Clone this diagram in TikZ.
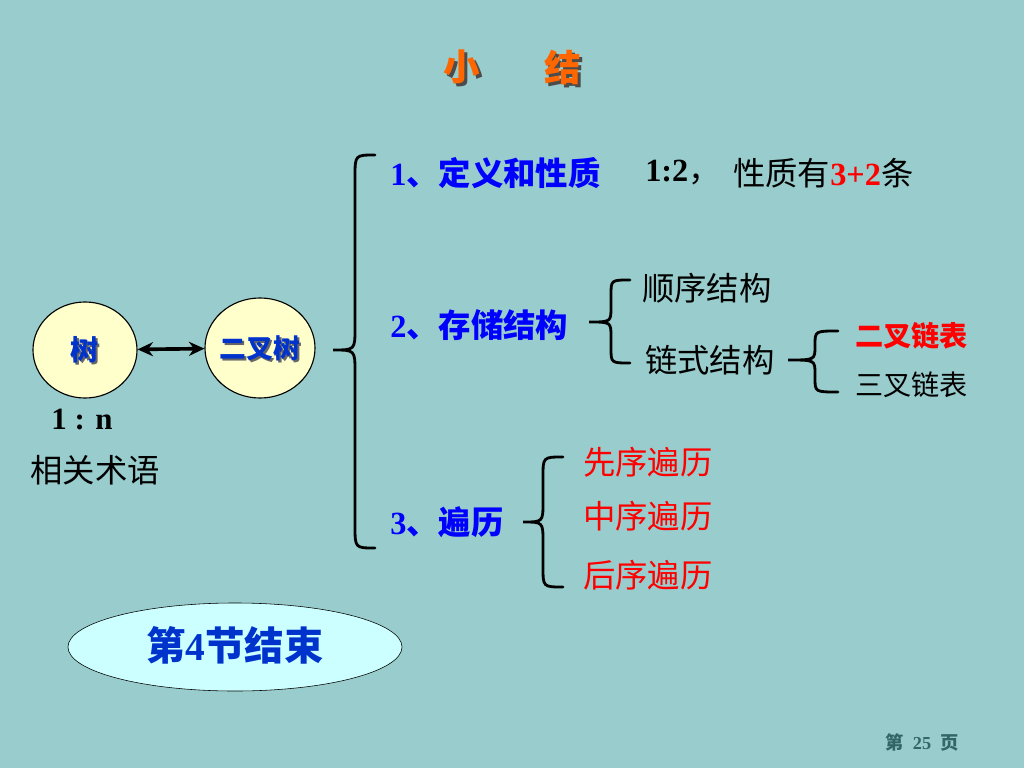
\documentclass[tikz,border=0pt]{standalone}
\usepackage{fontspec}
\setmainfont{Liberation Serif}
\newfontfamily\cjk{Noto Sans CJK SC}
\usetikzlibrary{shapes.geometric,arrows.meta}
\definecolor{slidebg}{RGB}{153,204,204}
\definecolor{titleorange}{RGB}{255,102,0}
\definecolor{nodeyellow}{RGB}{255,255,204}
\definecolor{endcyan}{RGB}{204,255,255}
\definecolor{pagegray}{RGB}{51,102,102}
\definecolor{textblue}{RGB}{0,0,255}
\definecolor{nodeblue}{RGB}{0,51,204}
\tikzset{
% ellipse nodes, text styles and brace lines
tree node/.style={ellipse,draw,thick,fill=nodeyellow,inner sep=0},
big text/.style={font=\fontsize{23}{28}\selectfont,inner sep=0,anchor=west},
small text/.style={font=\fontsize{20}{24}\selectfont,inner sep=0,anchor=west},
brace line/.style={line width=2pt,line cap=round}
}
% left curly brace: end x, body x, tip x, top y, middle y, bottom y, radius
\newcommand{\bracepath}[7]{%
\draw[brace line] (#1,#4) .. controls (#2,#4) .. (#2,#4+#7) -- (#2,#5-#7)
  .. controls (#2,#5) .. (#3,#5) .. controls (#2,#5) .. (#2,#5+#7)
  -- (#2,#6-#7) .. controls (#2,#6) .. (#1,#6);}

\begin{document}
\begin{tikzpicture}[x=0.025cm,y=-0.025cm]
\fill[slidebg] (0,0) rectangle (1024,768);
\useasboundingbox (0,0) rectangle (1024,768);

% title
\node[font=\fontsize{26}{30}\selectfont\cjk\bfseries,text=black!70] at (465,70) {小};
\node[font=\fontsize{26}{30}\selectfont\cjk\bfseries,text=black!70] at (566,70) {结};
\node[font=\fontsize{26}{30}\selectfont\cjk\bfseries,text=titleorange] (small) at (462,67) {小};
\node[font=\fontsize{26}{30}\selectfont\cjk\bfseries,text=titleorange] (sum) at (563,67) {结};

% tree and binary tree
\node[tree node,minimum width=2.6cm,minimum height=2.4cm] (tree) at (85,350) {};
\node[tree node,minimum width=2.75cm,minimum height=2.5cm] (bintree) at (260,348) {};
\node[font=\fontsize{20}{24}\selectfont\cjk\bfseries,text=black!60] at (87,352) {树};
\node[font=\fontsize{20}{24}\selectfont\cjk\bfseries,text=nodeblue] at (85,350) {树};
\node[font=\fontsize{19}{23}\selectfont\cjk\bfseries,text=black!60] at (262,350) {二叉树};
\node[font=\fontsize{19}{23}\selectfont\cjk\bfseries,text=nodeblue] at (260,348) {二叉树};
\draw[{Stealth[length=11pt,width=10pt]}-{Stealth[length=11pt,width=10pt]},line width=2.6pt] (tree) -- (bintree);
\node[font=\fontsize{22}{26}\selectfont\bfseries] (ratio1) at (82,420) {1 : n};
\node[font=\fontsize{23}{28}\selectfont\cjk] (terms) at (95,470) {相关术语};

% summary braces
\bracepath{375}{355}{333}{155}{350}{548}{22}
\bracepath{630}{611}{589}{280}{322}{363}{15}
\bracepath{838}{815}{788}{331}{360}{392}{14}
\bracepath{563}{543}{523}{457}{522}{587}{20}

% 1
\node[big text,text=textblue] (def) at (390,173) {{\bfseries 1}{\cjk\bfseries 、定义和性质}};
\node[big text] (ratio2) at (645,173) {{\bfseries 1:2}{\cjk ，}};
\node[big text] (prop) at (733,173) {{\cjk 性质有}{\bfseries\color{red}3+2}{\cjk 条}};

% 2
\node[big text,text=textblue] (store) at (390,325) {{\bfseries 2}{\cjk\bfseries 、存储结构}};
\node[big text] (seq) at (642,288) {\cjk 顺序结构};
\node[big text] (link) at (645,360) {\cjk 链式结构};
\node[small text,text=red] (bilist) at (855,336) {\cjk\bfseries 二叉链表};
\node[small text] (trilist) at (855,385) {\cjk 三叉链表};

% 3
\node[big text,text=textblue] (trav) at (390,522) {{\bfseries 3}{\cjk\bfseries 、遍历}};
\node[big text,text=red] (pre) at (583,462) {\cjk 先序遍历};
\node[big text,text=red] (in) at (583,516) {\cjk 中序遍历};
\node[big text,text=red] (post) at (583,575) {\cjk 后序遍历};

% end of section
\node[ellipse,draw,fill=endcyan,minimum width=8.35cm,minimum height=2.2cm] (end) at (235,647) {};
\node[font=\fontsize{28}{32}\selectfont,text=nodeblue] (endtext) at (235,645) {{\cjk\bfseries 第}{\bfseries 4}{\cjk\bfseries 节结束}};

% page number
\node[font=\fontsize{13}{16}\selectfont,text=pagegray] (page) at (922,742) {{\cjk\bfseries 第}\ \ {\bfseries 25}\ \ {\cjk\bfseries 页}};
\end{tikzpicture}
\end{document}
